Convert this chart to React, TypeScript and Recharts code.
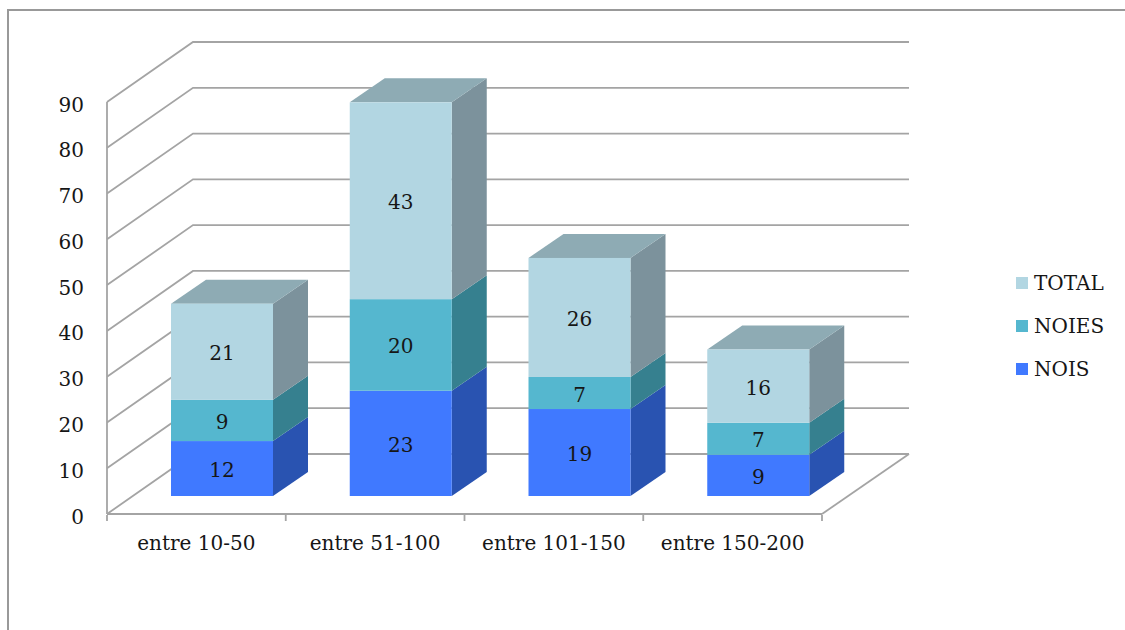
import { Bar, BarChart, CartesianGrid, LabelList, Legend, XAxis, YAxis } from "recharts";

const categories = ["entre 10-50", "entre 51-100", "entre 101-150", "entre 150-200"];
const nois = [12, 23, 19, 9];
const noies = [9, 20, 7, 7];
const total = [21, 43, 26, 16];
const yTicks = [0, 10, 20, 30, 40, 50, 60, 70, 80, 90];

const data = categories.map((name, i) => ({
  name,
  NOIS: nois[i],
  NOIES: noies[i],
  TOTAL: total[i],
}));

const FONT = "'DejaVu Serif', serif";
const TEXT = "#161616";
const GRID = "#a4a4a4";

// depth of the back wall, the push of the bars into the floor, and the bar's own depth
const WALL_X = 86;
const WALL_Y = 60;
const SHIFT_X = 26;
const SHIFT_Y = 18;
const BAR_X = 35;
const BAR_Y = 24;
const FLOOR_Y = 513;

const Block = ({ x, y, width, height, fill, sideFill, topFill }: any) => {
  const left = x + SHIFT_X;
  const right = left + width;
  const top = y - SHIFT_Y;
  const bottom = top + height;
  return (
    <g>
      <polygon
        points={`${right},${top} ${right + BAR_X},${top - BAR_Y} ${right + BAR_X},${bottom - BAR_Y} ${right},${bottom}`}
        fill={sideFill}
      />
      {topFill && (
        <polygon
          points={`${left},${top} ${left + BAR_X},${top - BAR_Y} ${right + BAR_X},${top - BAR_Y} ${right},${top}`}
          fill={topFill}
        />
      )}
      <rect x={left} y={top} width={width} height={height} fill={fill} />
    </g>
  );
};

const BlockLabel = ({ x, y, width, height, value }: any) => (
  <text
    x={x + SHIFT_X + width / 2}
    y={y - SHIFT_Y + height / 2 + 3}
    textAnchor="middle"
    dominantBaseline="middle"
    fontFamily={FONT}
    fontSize={20}
    fill={TEXT}
  >
    {value}
  </text>
);

// one horizontal gridline folded up the side wall and along the back wall
const WallLine = ({ x1, x2, y1 }: any) => {
  const isFloor = y1 >= FLOOR_Y;
  return (
    <g>
      <polyline
        points={`${x1},${y1} ${x1 + WALL_X},${y1 - WALL_Y} ${x2 + WALL_X + 1},${y1 - WALL_Y}`}
        fill="none"
        stroke={GRID}
        strokeWidth={1.8}
      />
      {isFloor && (
        <line x1={x2 + WALL_X + 1} y1={y1 - WALL_Y} x2={x2} y2={y1} stroke={GRID} strokeWidth={1.8} />
      )}
    </g>
  );
};

const ValueTick = ({ x, y, payload }: any) => (
  <text x={x - 17} y={y + 4} textAnchor="end" dominantBaseline="middle" fontFamily={FONT} fontSize={20} fill={TEXT}>
    {payload.value}
  </text>
);

const CategoryTick = ({ x, y, payload, index, width, visibleTicksCount }: any) => {
  const band = width / visibleTicksCount;
  const marks = index === visibleTicksCount - 1 ? [x - band / 2, x + band / 2] : [x - band / 2];
  return (
    <g>
      {marks.map((mx) => (
        <line key={mx} x1={mx} y1={y - 5} x2={mx} y2={y + 1} stroke={GRID} strokeWidth={1.8} />
      ))}
      <text x={x} y={y + 24} textAnchor="middle" dominantBaseline="middle" fontFamily={FONT} fontSize={20} fill={TEXT}>
        {payload.value}
      </text>
    </g>
  );
};

const LegendList = ({ payload }: any) => (
  <div style={{ fontFamily: FONT, fontSize: 20, color: TEXT }}>
    {[...(payload ?? [])].reverse().map((item: any) => (
      <div key={item.value} style={{ display: "flex", alignItems: "center", height: 43 }}>
        <span style={{ width: 12, height: 12, marginRight: 6, background: item.color }} />
        {item.value}
      </div>
    ))}
  </div>
);

export default function App() {
  return (
    <div style={{ position: "absolute", left: 0, top: 0, width: 1125, height: 630, background: "#fff", overflow: "hidden" }}>
      <div
        style={{
          position: "absolute",
          left: 7,
          top: 9,
          width: 1125,
          height: 630,
          borderLeft: "2px solid #999",
          borderTop: "2px solid #999",
        }}
      />
      <div style={{ position: "absolute", left: 0, top: 0 }}>
        <BarChart width={1125} height={630} data={data} margin={{ top: 102, right: 303, bottom: 86, left: 47 }} barSize={102}>
          <CartesianGrid vertical={false} horizontal={<WallLine />} syncWithTicks />
          <YAxis
            width={60}
            domain={[0, 90]}
            ticks={yTicks}
            interval={0}
            tickLine={false}
            tickMargin={0}
            axisLine={{ stroke: GRID, strokeWidth: 1.8 }}
            tick={<ValueTick />}
          />
          <XAxis
            dataKey="name"
            height={30}
            interval={0}
            tickLine={false}
            tickMargin={0}
            axisLine={{ stroke: GRID, strokeWidth: 1.8 }}
            tick={<CategoryTick />}
          />
          <Legend
            layout="horizontal"
            align="center"
            verticalAlign="middle"
            itemSorter={null}
            content={<LegendList />}
            wrapperStyle={{ left: 1016, top: 261, width: 105, height: 130 }}
          />
          <Bar dataKey="NOIS" stackId="a" fill="#4079ff" isAnimationActive={false} shape={<Block sideFill="#2953b1" />}>
            <LabelList dataKey="NOIS" content={<BlockLabel />} />
          </Bar>
          <Bar dataKey="NOIES" stackId="a" fill="#55b7cf" isAnimationActive={false} shape={<Block sideFill="#36808f" />}>
            <LabelList dataKey="NOIES" content={<BlockLabel />} />
          </Bar>
          <Bar
            dataKey="TOTAL"
            stackId="a"
            fill="#b2d6e2"
            isAnimationActive={false}
            shape={<Block sideFill="#7c929c" topFill="#8eabb4" />}
          >
            <LabelList dataKey="TOTAL" content={<BlockLabel />} />
          </Bar>
        </BarChart>
      </div>
    </div>
  );
}
